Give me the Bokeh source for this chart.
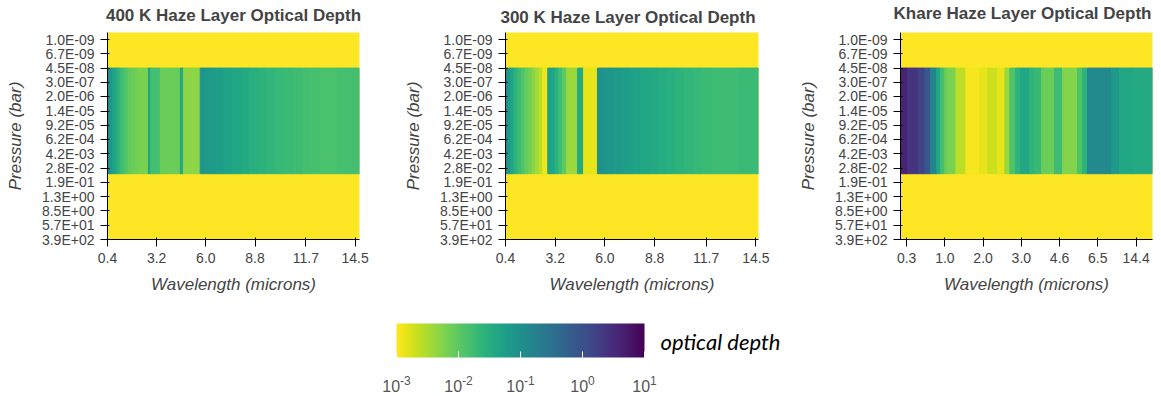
import numpy as np
from bokeh.plotting import figure
from bokeh.models import (Range1d, FixedTicker, CustomJSTickFormatter, PrintfTickFormatter,
                          LogColorMapper, ColorBar, Label, ColumnDataSource)
from bokeh.core.properties import value
from bokeh.transform import log_cmap
from bokeh.palettes import Viridis256
from bokeh.layouts import row, column
from bokeh.embed import file_html
from bokeh.resources import INLINE

# ---------------- data ----------------
pressure_ticks_bar = [1.0e-9, 6.7e-9, 4.5e-8, 3.0e-7, 2.0e-6, 1.4e-5, 9.2e-5, 6.2e-4,
                      4.2e-3, 2.8e-2, 1.9e-1, 1.3e0, 8.5e0, 5.7e1, 3.9e2]
pressure_top_bar = 3.9e-10      # top of the pressure grid
haze_top_bar = 4.5e-8           # haze layer upper boundary
haze_bottom_bar = 6.0e-2        # haze layer lower boundary

wl_ticks = [0.4, 3.2, 6.0, 8.8, 11.7, 14.5]

wl_edges_400 = [0.4, 0.55, 0.7, 0.85, 1.0, 1.15, 1.3, 1.45, 1.6, 1.8, 2.0, 2.2, 2.73, 2.84,
                3.41, 4.55, 4.72, 5.68, 5.97, 6.5, 7.0, 7.5, 8.0, 8.5, 9.0, 9.5, 10.0, 10.5,
                11.0, 11.5, 12.0, 12.5, 13.0, 13.5, 14.0, 14.75]
logtau_400 = [-0.95, -1.1, -1.3, -1.45, -1.6, -1.75, -1.85, -1.95, -2.05, -2.1, -2.15, -2.2,
              -1.35, -1.8, -2.1, -1.4, -2.3, -1.1,
              -1.15, -1.22, -1.3, -1.38, -1.45, -1.52, -1.58, -1.63, -1.68, -1.72, -1.76,
              -1.8, -1.83, -1.85, -1.85, -1.83, -1.82]

wl_edges_300 = [0.4, 0.55, 0.7, 0.85, 1.0, 1.15, 1.3, 1.5, 1.7, 1.9, 2.1, 2.3, 2.5, 2.78,
                3.0, 3.2, 3.4, 3.6, 3.85, 4.46, 4.8, 5.58, 6.0, 6.5, 7.0, 7.5, 8.0, 8.5, 9.0,
                9.5, 10.0, 10.5, 11.0, 11.5, 12.0, 12.5, 13.0, 13.5, 14.0, 14.65]
logtau_300 = [-0.95, -1.15, -1.35, -1.5, -1.65, -1.78, -1.9, -2.05, -2.15, -2.3, -2.45, -2.6,
              -2.9, -1.3, -1.35, -1.55, -1.75, -2.0, -2.4, -1.45, -2.85, -1.05,
              -1.1, -1.17, -1.24, -1.3, -1.36, -1.42, -1.48, -1.53, -1.58, -1.63, -1.68,
              -1.72, -1.75, -1.76, -1.75, -1.73, -1.72]

khare_tick_labels = ["0.3", "1.0", "2.0", "3.0", "4.6", "6.5", "14.4"]
# bin edges in wavelength-grid index units (tick k sits at index k)
khare_bin_edges = [-0.16, 0.03, 0.30, 0.48, 0.63, 0.79, 0.89, 1.00, 1.08, 1.29, 1.55, 1.91,
                   2.12, 2.38, 2.57, 2.70, 2.85, 2.98, 3.17, 3.22, 3.35, 3.53, 3.87, 4.08,
                   4.47, 4.60, 4.73, 5.36, 5.57, 5.96, 6.43]
logtau_khare = [0.6, 0.4, 0.2, -0.1, -0.8, -1.4, -1.8, -2.1, -2.2, -2.6, -2.95, -2.85, -2.7,
                -2.85, -2.4, -1.9, -1.6, -1.4, -1.35, -1.6, -1.7, -2.1, -1.75, -2.25, -1.9,
                -1.6, -0.9, -1.15, -1.4, -1.45]

panel_titles = ["400 K Haze Layer Optical Depth", "300 K Haze Layer Optical Depth",
                "Khare Haze Layer Optical Depth"]

tau_low, tau_high = 1e-3, 1e1
colorbar_exponents = [-3, -2, -1, 0, 1]

assert len(wl_edges_400) == len(logtau_400) + 1
assert len(wl_edges_300) == len(logtau_300) + 1
assert len(khare_bin_edges) == len(logtau_khare) + 1

# ---------------- styling / layout ----------------
FONT = "Liberation Sans"
GREY = "#444444"
W = 1161
TITLE_H = 28
palette = list(reversed(Viridis256))
mapper = LogColorMapper(palette=palette, low=tau_low, high=tau_high)

# (left border, frame top in page px, right border, frame width, title anchor in page px)
geom = [(107, 31, 41, 252, 15.0), (101, 32, 36, 253, 16.5), (106, 28, 13, 252, 13.0)]
FRAME_H = 207
ROW_H = 272

ylab_js = """
const s = Math.pow(10, tick).toExponential(1);
const parts = s.split("e");
const ex = parts[1];
const sign = ex[0] === "-" ? "-" : "+";
const digits = ex.replace(/[-+]/, "").padStart(2, "0");
return parts[0] + "E" + sign + digits;
"""


def make_panel(edges, logtau, x_start, x_end, xticks, g, overrides=None):
    left, ftop, right, fw, _ = g
    top = ftop - TITLE_H
    bottom = ROW_H - top - FRAME_H
    p = figure(frame_width=fw, frame_height=FRAME_H,
               x_range=Range1d(x_start, x_end),
               y_range=Range1d(float(np.log10(pressure_ticks_bar[-1])),
                               float(np.log10(pressure_top_bar))),
               min_border_left=left, min_border_right=right, min_border_top=top,
               min_border_bottom=bottom, toolbar_location=None, output_backend="svg",
               x_axis_label="Wavelength (microns)", y_axis_label="Pressure (bar)")
    p.background_fill_color = palette[0]
    p.border_fill_color = "white"
    p.outline_line_color = None
    p.xgrid.visible = False
    p.ygrid.visible = False

    src = ColumnDataSource(dict(left=edges[:-1], right=edges[1:],
                                tau=[10 ** v for v in logtau]))
    cmap = log_cmap("tau", palette, tau_low, tau_high)
    p.quad(left="left", right="right", top=np.log10(haze_top_bar),
           bottom=np.log10(haze_bottom_bar), source=src,
           fill_color=cmap, line_color=cmap, line_width=1)

    p.yaxis.ticker = FixedTicker(ticks=[float(np.log10(v)) for v in pressure_ticks_bar])
    p.yaxis.formatter = CustomJSTickFormatter(code=ylab_js)
    p.xaxis.ticker = FixedTicker(ticks=xticks)
    if overrides is None:
        p.xaxis.formatter = PrintfTickFormatter(format="%.1f")
    else:
        p.xaxis.major_label_overrides = overrides

    for ax in (p.xaxis[0], p.yaxis[0]):
        ax.axis_label_text_font = FONT
        ax.axis_label_text_font_size = "17px"
        ax.axis_label_text_font_style = "italic"
        ax.axis_label_text_color = GREY
        ax.major_label_text_font = FONT
        ax.major_label_text_font_size = "14px"
        ax.major_label_text_color = GREY
        ax.minor_tick_line_color = None
        ax.major_tick_out = 7
        ax.major_tick_in = 2
        ax.axis_line_color = "black"
        ax.major_tick_line_color = "black"
        ax.major_label_standoff = 6
    p.yaxis.axis_label_standoff = 14
    p.xaxis.axis_label_standoff = 9
    return p


p1 = make_panel(wl_edges_400, logtau_400, wl_edges_400[0], wl_edges_400[-1], wl_ticks, geom[0])
p2 = make_panel(wl_edges_300, logtau_300, wl_edges_300[0], wl_edges_300[-1], wl_ticks, geom[1])
p3 = make_panel(khare_bin_edges, logtau_khare, khare_bin_edges[0], khare_bin_edges[-1],
                list(range(len(khare_tick_labels))), geom[2],
                overrides={i: lab for i, lab in enumerate(khare_tick_labels)})

# ---------------- title strip ----------------
title_fig = figure(width=W, height=TITLE_H, x_range=Range1d(0, W), y_range=Range1d(0, TITLE_H),
                   min_border=0, toolbar_location=None, output_backend="svg",
                   x_axis_location=None, y_axis_location=None)
title_fig.xgrid.visible = False
title_fig.ygrid.visible = False
title_fig.outline_line_color = None
title_fig.background_fill_color = None
title_fig.border_fill_color = "white"
x0 = 0
for (left, ftop, right, fw, base), t in zip(geom, panel_titles):
    title_fig.add_layout(Label(x=x0 + left + fw / 2, y=TITLE_H - base, text=t,
                               text_align="center", text_baseline="alphabetic",
                               text_font=FONT, text_font_size="17px",
                               text_font_style="bold", text_color=GREY))
    x0 += left + fw + right

# ---------------- colour bar strip ----------------
CB_X0, CB_LEN, CB_H, CB_BOTTOM = 396, 248, 34, 39
cb_fig = figure(width=W, height=96, x_range=Range1d(0, W), y_range=Range1d(0, 96),
                min_border=0, toolbar_location=None, output_backend="svg",
                x_axis_location=None, y_axis_location=None)
cb_fig.xgrid.visible = False
cb_fig.ygrid.visible = False
cb_fig.outline_line_color = None
cb_fig.background_fill_color = None
cb_fig.border_fill_color = "white"

cb = ColorBar(color_mapper=mapper, orientation="horizontal", width=CB_LEN, height=CB_H,
              location=(CB_X0, CB_BOTTOM), padding=0, margin=0,
              ticker=FixedTicker(ticks=[10.0 ** e for e in colorbar_exponents]),
              formatter=CustomJSTickFormatter(code="return '';"),
              major_label_text_font_size="1px", label_standoff=0,
              major_tick_in=6, major_tick_out=0, major_tick_line_color="white",
              minor_tick_line_color=None, bar_line_color=None,
              background_fill_color=None, border_line_color=None)
cb_fig.add_layout(cb, "center")

# tick labels "10" with superscript exponent, placed through the colour bar's log scale
span = colorbar_exponents[-1] - colorbar_exponents[0]
tick_x = [CB_X0 + (e - colorbar_exponents[0]) / span * CB_LEN for e in colorbar_exponents]
sup_text = [str(e) for e in colorbar_exponents]
base_w = 17.8
exp_w = [4.0 * t.count("-") + 6.7 * sum(ch.isdigit() for ch in t) for t in sup_text]
split_x = [x + (base_w - w) / 2 for x, w in zip(tick_x, exp_w)]
lab_src = ColumnDataSource(dict(x=split_x, base=["10"] * len(sup_text), sup=sup_text))
cb_fig.text(x="x", y=10.5, text="base", source=lab_src, text_align="right",
            text_baseline="alphabetic", text_font=value(FONT), text_font_size="16px",
            text_color="#555555")
cb_fig.text(x="x", y=16.5, text="sup", source=lab_src, text_align="left",
            text_baseline="alphabetic", text_font=value(FONT), text_font_size="12px",
            text_color="#555555")

cb_fig.add_layout(Label(x=660, y=55, text="optical depth", text_font="Lato",
                        text_font_style="italic", text_font_size="22px",
                        text_color="black", text_baseline="middle"))

layout = column(title_fig, row(p1, p2, p3), cb_fig)

with open("out.html", "w") as f:
    f.write(file_html(layout, INLINE))
